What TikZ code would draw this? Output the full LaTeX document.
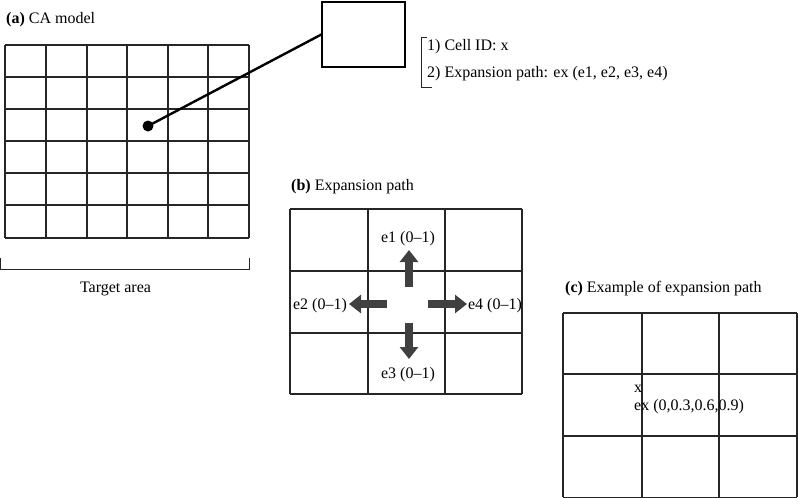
\documentclass[tikz,border=0pt]{standalone}
\usepackage{fontspec}
\setmainfont{Liberation Serif}
\usetikzlibrary{arrows.meta}
\begin{document}
\begin{tikzpicture}[x=1pt,y=-1pt, font=\fontsize{16}{18}\selectfont,
  gridline/.style={line width=1.4pt, draw=black!85},
  lbl/.style={anchor=base west, inner sep=0pt},
  elbl/.style={anchor=base, inner sep=0pt},
  fatarrow/.style={line width=8pt, draw=black!75, -{Triangle[width=18pt,length=12pt]}},
  brk/.style={line width=1pt, draw=black!85}]
\useasboundingbox (0,0) rectangle (798,498);

% (a) grid
\foreach \x in {5,46,87,127,168,208,249} \draw[gridline] (\x,45) -- (\x,238);
\foreach \y in {45,77,109,141,173,205,238} \draw[gridline] (5,\y) -- (249,\y);
\node[lbl] (ta) at (6,23) {\textbf{(a)} CA model};
\draw[brk] (0.6,258) -- (0.6,269) -- (249,269) -- (249,258);
\node[elbl] (tarea) at (115.5,292.5) {Target area};

% dot and cell box
\node[circle, fill=black, inner sep=0pt, minimum size=11pt] (dot) at (148,126) {};
\node[draw, line width=1.3pt, minimum width=83pt, minimum height=65pt, inner sep=0pt] (cellbox) at (363.5,34.5) {};
\draw[line width=2.4pt] (dot.center) -- (cellbox.west);

% info bracket
\draw[brk] (427,37) -- (421,37) -- (421,87) -- (432,87);
\node[lbl] (i1) at (427,50) {1) Cell ID: x};
\node[lbl] (i2) at (427,77.5) {2) Expansion path: ex (e1, e2, e3, e4)};

% (b)
\node[lbl] (tb) at (291,190) {\textbf{(b)} Expansion path};
\foreach \x in {290,368,445,522} \draw[gridline] (\x,209) -- (\x,394);
\foreach \y in {209,271,333,394} \draw[gridline] (290,\y) -- (522,\y);
\coordinate (u0) at (409,287); \coordinate (u1) at (409,250);
\coordinate (l0) at (387,304); \coordinate (l1) at (349,304);
\coordinate (r0) at (428,304); \coordinate (r1) at (467,304);
\coordinate (d0) at (409,323); \coordinate (d1) at (409,359);
\draw[fatarrow] (u0) -- (u1);
\draw[fatarrow] (l0) -- (l1);
\draw[fatarrow] (r0) -- (r1);
\draw[fatarrow] (d0) -- (d1);
\node[elbl] (e1) at (408,242) {e1 (0--1)};
\node[elbl] (e2) at (320,309.5) {e2 (0--1)};
\node[elbl] (e4) at (495,309.5) {e4 (0--1)};
\node[elbl] (e3) at (408,378) {e3 (0--1)};

% (c)
\node[lbl] (tc) at (565,292) {\textbf{(c)} Example of expansion path};
\foreach \x in {563,642,719,797} \draw[gridline] (\x,313) -- (\x,497.3);
\foreach \y in {313,374,436,497.3} \draw[gridline] (563,\y) -- (797,\y);
\node[lbl] (cx) at (634,392) {x};
\node[lbl] (cex) at (634,410) {ex (0,0.3,0.6,0.9)};
\end{tikzpicture}
\end{document}
